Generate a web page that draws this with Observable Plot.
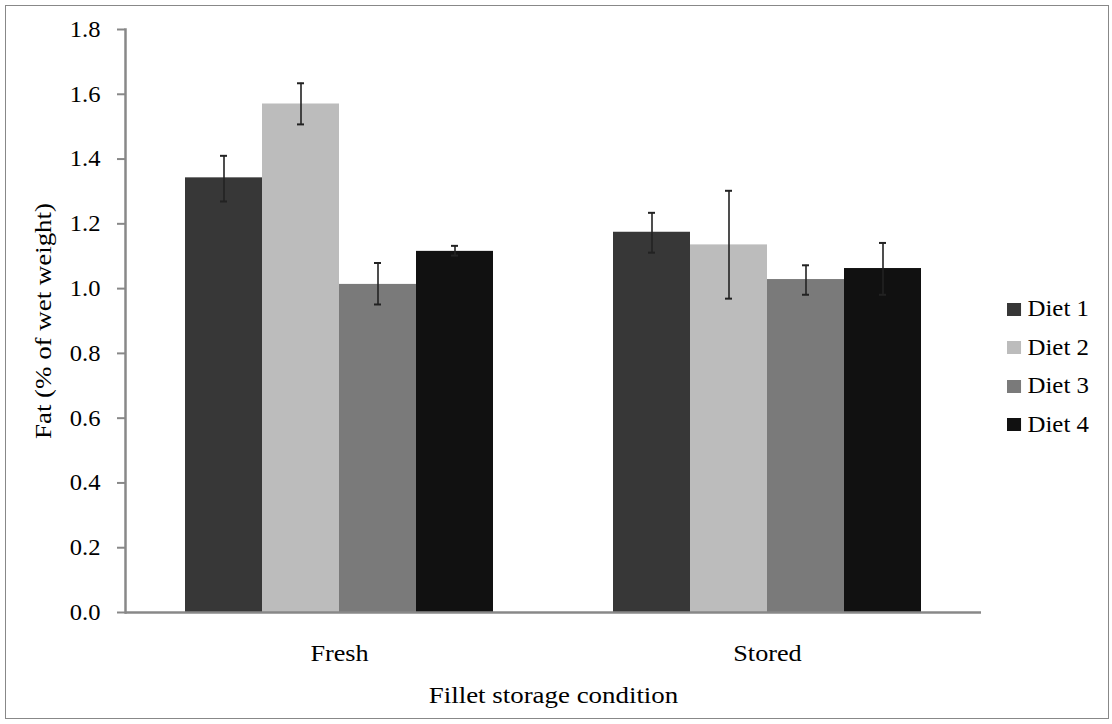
<!DOCTYPE html>
<html>
<head>
<meta charset="utf-8">
<script src="https://cdn.jsdelivr.net/npm/d3@7"></script>
<script src="https://cdn.jsdelivr.net/npm/@observablehq/plot@0.6"></script>
<style>
  html, body { margin: 0; padding: 0; background: #fff; }
  #wrap { position: relative; width: 1112px; height: 724px; overflow: hidden; }
  #border { position: absolute; left: 5px; top: 5px; width: 1102px; height: 712px; border: 1.5px solid #888; pointer-events: none; }
  #legend { position: absolute; left: 1007px; top: 290px; transform: scaleX(1.08); transform-origin: left top; }
</style>
</head>
<body>
<div id="wrap"><div id="chart"></div><div id="legend"></div><div id="border"></div></div>
<script>
const conditions = ["Fresh", "Stored"];
const diets = ["Diet 1", "Diet 2", "Diet 3", "Diet 4"];
const dietColors = ["#373737", "#bcbcbc", "#7a7a7a", "#111111"];
const freshMean = [1.342, 1.570, 1.013, 1.115];
const freshLow  = [1.269, 1.507, 0.951, 1.102];
const freshHigh = [1.410, 1.634, 1.079, 1.132];
const storedMean = [1.174, 1.135, 1.028, 1.062];
const storedLow  = [1.111, 0.969, 0.981, 0.981];
const storedHigh = [1.234, 1.302, 1.072, 1.141];
const yTicks = [0, 0.2, 0.4, 0.6, 0.8, 1.0, 1.2, 1.4, 1.6, 1.8];

const series = {Fresh: [freshMean, freshLow, freshHigh], Stored: [storedMean, storedLow, storedHigh]};
const data = [];
for (const c of conditions) {
  const [m, lo, hi] = series[c];
  diets.forEach((d, i) => data.push({cond: c, diet: d, value: m[i], lo: lo[i], hi: hi[i]}));
}

const FF = "'Liberation Serif', 'Times New Roman', serif";
const FS = 23;

const chart = Plot.plot({
  width: 1112, height: 724,
  marginLeft: 125, marginRight: 131, marginTop: 29, marginBottom: 112,
  style: {fontFamily: FF, fontSize: FS + "px", color: "#000", background: "transparent"},
  fx: {domain: conditions, padding: 0},
  x: {domain: diets, paddingInner: 0, paddingOuter: 0.75, axis: null},
  y: {domain: [0, 1.8]},
  color: {domain: diets, range: dietColors},
  marks: [
    Plot.barY(data, {fx: "cond", x: "diet", y: "value", fill: "diet"}),
    Plot.ruleX(data, {fx: "cond", x: "diet", y1: "lo", y2: "hi", stroke: "#222", strokeWidth: 1.6}),
    Plot.tickY(data, {fx: "cond", x: "diet", y: "lo", insetLeft: 35, insetRight: 35, stroke: "#222", strokeWidth: 2}),
    Plot.tickY(data, {fx: "cond", x: "diet", y: "hi", insetLeft: 35, insetRight: 35, stroke: "#222", strokeWidth: 2}),
    Plot.ruleY([0], {stroke: "#888", strokeWidth: 2.5}),
    Plot.frame({anchor: "left", facetAnchor: "left", stroke: "#888", strokeWidth: 2.5}),
    Plot.axisY({ticks: yTicks, tickFormat: d => d.toFixed(1), tickSize: 8, tickPadding: 17,
      stroke: "#888", strokeWidth: 2, fill: "#000", fontSize: FS, fontFamily: FF,
      label: "Fat (% of wet weight)", labelAnchor: "center", labelOffset: 91, labelArrow: "none"}),
    Plot.axisFx({anchor: "bottom", tickSize: 0, tickPadding: 32, fill: "#000", fontSize: FS, fontFamily: FF,
      label: "Fillet storage condition", labelAnchor: "center", labelOffset: 90, labelArrow: "none"})
  ]
});
document.getElementById("chart").appendChild(chart);

// the reference's lettering is set wide: stretch each text along its reading direction
function stretch(selector, s) {
  chart.querySelectorAll(selector).forEach(t => {
    let tr = t.getAttribute("transform");
    if (!tr) {
      const x = +(t.getAttribute("x") || 0), y = +(t.getAttribute("y") || 0);
      t.removeAttribute("x"); t.removeAttribute("y");
      tr = `translate(${x},${y})`;
    }
    t.setAttribute("transform", tr + ` scale(${s},1)`);
  });
}
stretch('g[aria-label="y-axis tick label"] text', 1.07);
stretch('g[aria-label="fx-axis tick label"] text', 1.14);
stretch('g[aria-label="y-axis label"] text', 1.17);
stretch('g[aria-label="fx-axis label"] text', 1.17);

const leg = chart.legend("color", {columns: 1, swatchSize: 13, className: "lg",
  style: {fontFamily: FF, fontSize: FS + "px", color: "#000"}});
document.getElementById("legend").appendChild(leg);
const st = document.createElement("style");
st.textContent = `#legend .lg-swatch { height: 38.5px; margin: 0; padding: 0; }
#legend .lg-swatch svg { margin-right: 6px; }
#legend, #legend * { font-family: ${FF} !important; font-size: ${FS}px !important; color: #000; }`;
document.head.appendChild(st);
</script>
</body>
</html>
